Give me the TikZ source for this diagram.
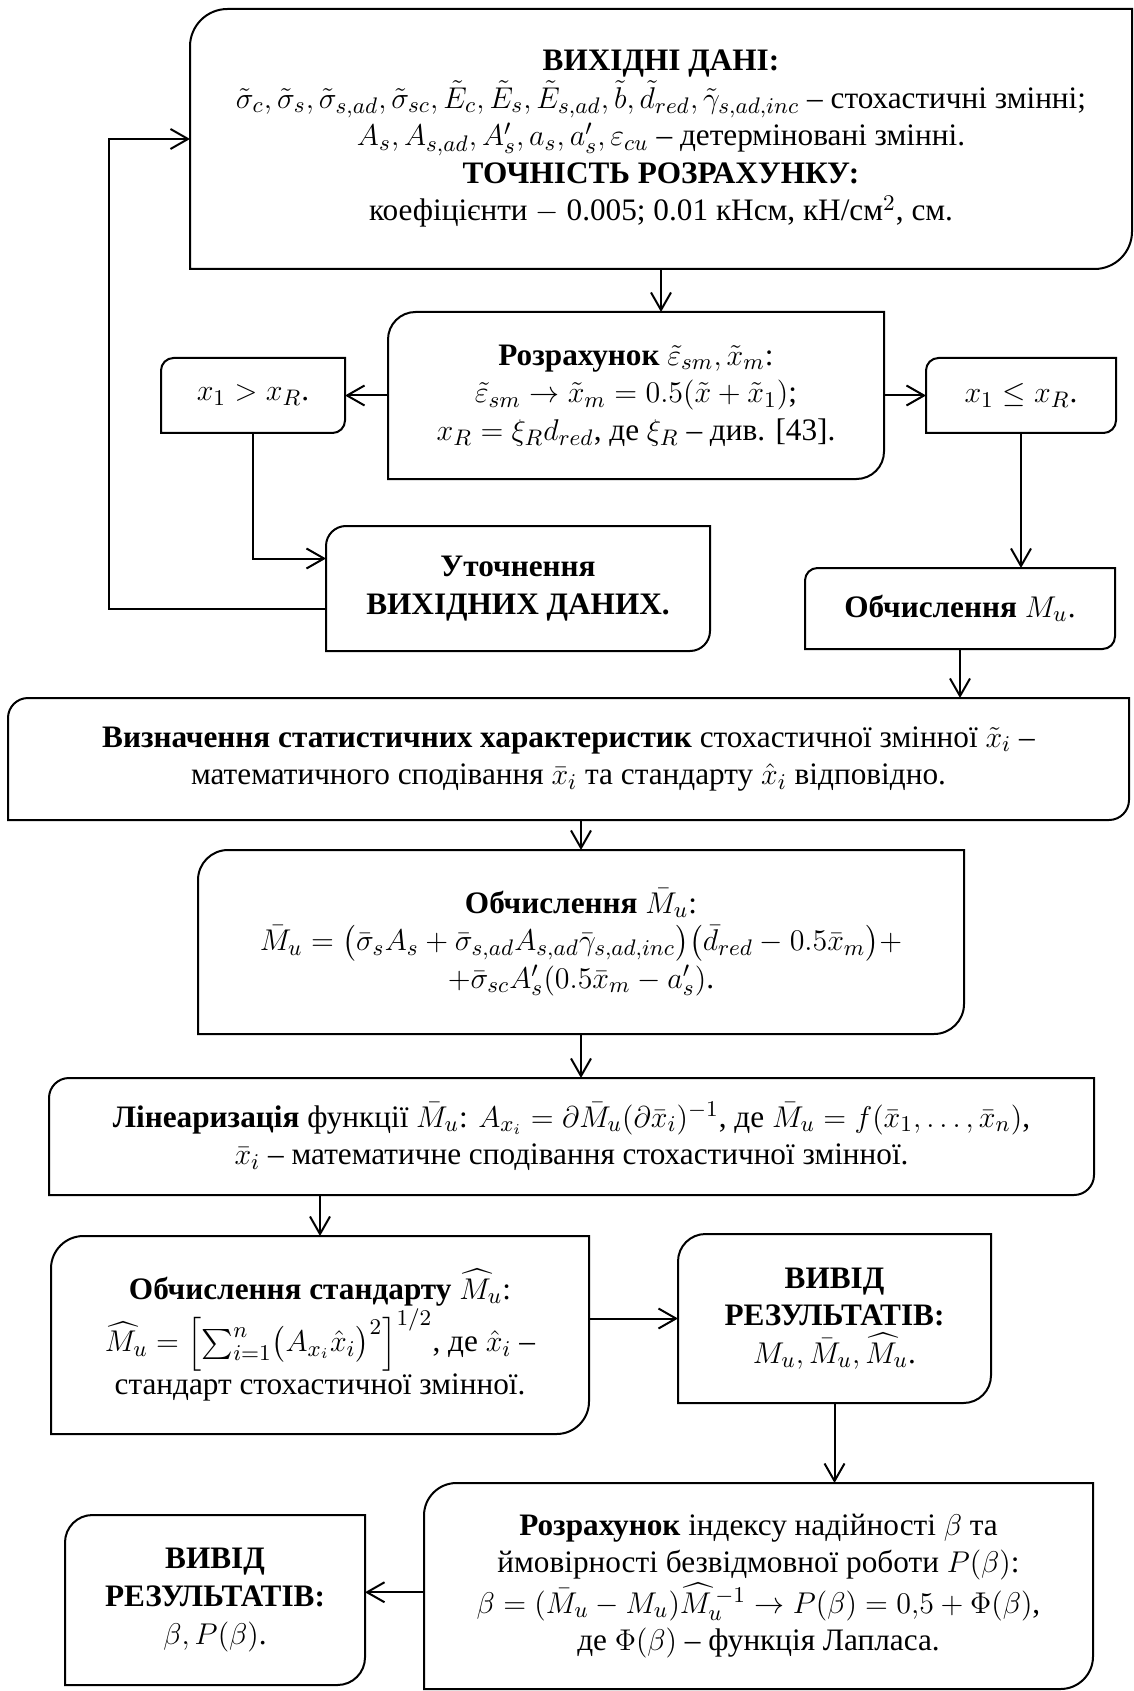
\documentclass[tikz,border=0pt]{standalone}
\usepackage{fontspec}
\setmainfont{Liberation Serif}
\usepackage{amsmath}
\usetikzlibrary{arrows.meta}

\newcommand{\ramka}[2]{% outline: round top-left and bottom-right corners
\draw ([yshift=-#2]#1.north west) arc[start angle=180,end angle=90,radius=#2] -- (#1.north east)
 -- ([yshift=#2]#1.south east) arc[start angle=0,end angle=-90,radius=#2] -- (#1.south west) -- cycle;}

\begin{document}
\begin{tikzpicture}[x=0.4pt,y=-0.4pt,line width=0.8pt,font=\fontsize{12.5}{15}\selectfont,
 blok/.style={inner sep=0pt,align=center},
 strilka/.style={-{Straight Barb[length=7pt,width=8pt]}}]
\useasboundingbox (0,0) rectangle (1133,1691); %page size

%input data
\node[blok,minimum width=940*0.4pt,minimum height=258*0.4pt] (vhid) at (661,139) {\textbf{ВИХІДНІ ДАНІ:}\\
$\tilde\sigma_c, \tilde\sigma_s, \tilde\sigma_{s,ad}, \tilde\sigma_{sc}, \tilde E_c, \tilde E_s, \tilde E_{s,ad}, \tilde b, \tilde d_{red}, \tilde\gamma_{s,ad,inc}$ – стохастичні змінні;\\
$A_s, A_{s,ad}, A'_s, a_s, a'_s, \varepsilon_{cu}$ – детерміновані змінні.\\
\textbf{ТОЧНІСТЬ РОЗРАХУНКУ:}\\
коефіцієнти $-$ 0.005;\ 0.01 кНсм, кН/см$^2$, см.};
\node[blok,minimum width=494*0.4pt,minimum height=165*0.4pt] (rozr) at (636,395.5) {\textbf{Розрахунок} $\tilde\varepsilon_{sm}, \tilde x_m$:\\
$\tilde\varepsilon_{sm} \rightarrow \tilde x_m = 0.5(\tilde x + \tilde x_1)$;\\
$x_R = \xi_R d_{red}$, де $\xi_R$ – див. [43].};
\node[blok,minimum width=182*0.4pt,minimum height=73*0.4pt] (bilshe) at (253,395.5) {$x_1 > x_R$.};
\node[blok,minimum width=188*0.4pt,minimum height=73*0.4pt] (menshe) at (1021,395.5) {$x_1 \le x_R$.};
\node[blok,minimum width=382*0.4pt,minimum height=123*0.4pt] (utoch) at (518,588.5) {\textbf{Уточнення}\\ \textbf{ВИХІДНИХ ДАНИХ.}};
\node[blok,minimum width=308*0.4pt,minimum height=79*0.4pt] (obch) at (960,608.5) {\textbf{Обчислення} $M_u$.};

%statistics
\node[blok,minimum width=1119*0.4pt,minimum height=120*0.4pt] (stat) at (568.5,759) {\textbf{Визначення статистичних характеристик} стохастичної змінної $\tilde x_i$ –\\
математичного сподівання $\bar x_i$ та стандарту $\hat x_i$ відповідно.};
\node[blok,minimum width=764*0.4pt,minimum height=182*0.4pt] (obchm) at (581,942) {\textbf{Обчислення} $\bar M_u$:\\
$\bar M_u = \bigl(\bar\sigma_s A_s + \bar\sigma_{s,ad} A_{s,ad} \bar\gamma_{s,ad,inc}\bigr)\bigl(\bar d_{red} - 0.5\bar x_m\bigr) +$\\
$+\bar\sigma_{sc} A'_s (0.5 \bar x_m - a'_s)$.};
\node[blok,minimum width=1043*0.4pt,minimum height=115*0.4pt] (lin) at (571.5,1136.5) {\textbf{Лінеаризація} функції $\bar M_u$: $A_{x_i} = \partial \bar M_u (\partial \bar x_i)^{-1}$, де $\bar M_u = f(\bar x_1, \dots, \bar x_n)$,\\
$\bar x_i$ – математичне сподівання стохастичної змінної.};
\node[blok,minimum width=536*0.4pt,minimum height=196*0.4pt] (stand) at (320,1335) {\textbf{Обчислення стандарту} $\widehat M_u$:\\
$\widehat M_u = \Bigl[\sum_{i=1}^n \bigl(A_{x_i} \hat x_i\bigr)^2\Bigr]^{1/2}$, де $\hat x_i$ –\\
стандарт стохастичної змінної.};
\node[blok,minimum width=311*0.4pt,minimum height=167*0.4pt] (vyvid) at (834.5,1318.5) {\textbf{ВИВІД}\\ \textbf{РЕЗУЛЬТАТІВ:}\\ $M_u, \bar M_u, \widehat M_u$.};
\node[blok,minimum width=667*0.4pt,minimum height=204*0.4pt] (beta) at (758.5,1586) {\textbf{Розрахунок} індексу надійності $\beta$ та\\
ймовірності безвідмовної роботи $P(\beta)$:\\
$\beta = (\bar M_u - M_u)\widehat M_u^{\,-1} \rightarrow P(\beta) = 0{,}5 + \Phi(\beta)$,\\
де $\Phi(\beta)$ – функція Лапласа.};
\node[blok,minimum width=298*0.4pt,minimum height=168*0.4pt] (vyvidb) at (215,1600) {\textbf{ВИВІД}\\ \textbf{РЕЗУЛЬТАТІВ:}\\ $\beta, P(\beta)$.};

\foreach \n/\r in {vhid/15pt,rozr/11pt,bilshe/5pt,menshe/5pt,utoch/8pt,obch/5pt,stat/8pt,obchm/12pt,lin/8pt,stand/13pt,vyvid/11pt,beta/13pt,vyvidb/11pt}
 \ramka{\n}{\r};

%arrows
\coordinate (povorot) at (109,139); %feedback corner
\draw[strilka] (vhid.south) -- (vhid.south |- rozr.north);
\draw[strilka] (rozr.west) -- (bilshe.east);
\draw[strilka] (rozr.east) -- (menshe.west);
\draw[strilka] (bilshe.south) |- ([yshift=12pt]utoch.west);
\draw[strilka] ([yshift=-8pt]utoch.west) -| (povorot) -- (vhid.west);
\draw[strilka] (menshe.south) -- (menshe.south |- obch.north);
\draw[strilka] (obch.south) -- (obch.south |- stat.north);
\draw[strilka] (obchm.north |- stat.south) -- (obchm.north);
\draw[strilka] (obchm.south) -- (obchm.south |- lin.north);
\draw[strilka] (stand.north |- lin.south) -- (stand.north);
\draw[strilka] (stand.east |- vyvid.west) -- (vyvid.west);
\draw[strilka] (vyvid.south) -- (vyvid.south |- beta.north);
\draw[strilka] ([yshift=-2.5pt]beta.west) -- ([yshift=-2.5pt]beta.west -| vyvidb.east);
\end{tikzpicture}
\end{document}
